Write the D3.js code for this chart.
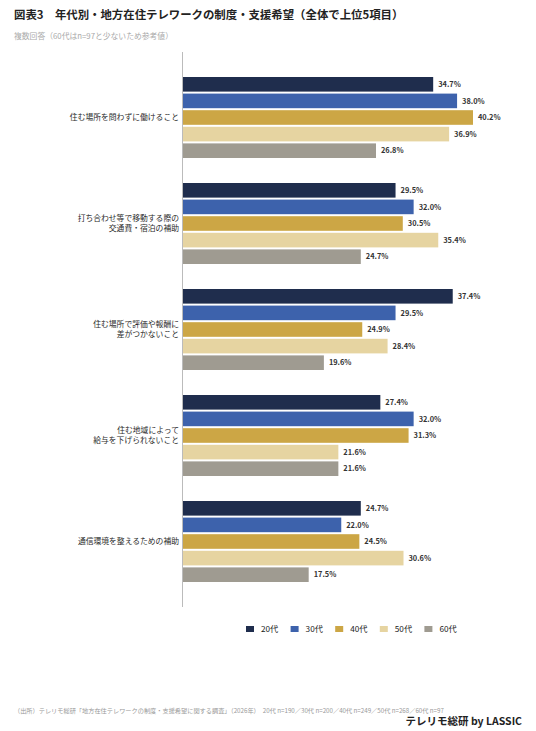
<!DOCTYPE html>
<html lang="ja">
<head>
  <meta charset="UTF-8" />
  <title>年代別・地方在住テレワークの制度・支援希望</title>
  <script src="https://d3js.org/d3.v7.min.js"></script>
  <style>
    body { margin: 0; background: #fff; }
    svg { font-family: "Noto Sans CJK JP", "Noto Sans", sans-serif; display: block; }
    .cat { font-size: 7.8px; fill: #2a2a2a; }
    .val { font-size: 7.4px; font-weight: bold; fill: #333; }
    .legend text { font-size: 8.2px; fill: #222; }
  </style>
</head>
<body>
  <svg id="chart" width="536" height="731"></svg>

  <script>
    // data
    const items = [
      ["住む場所を問わずに働けること"],
      ["打ち合わせ等で移動する際の", "交通費・宿泊の補助"],
      ["住む場所で評価や報酬に", "差がつかないこと"],
      ["住む地域によって", "給与を下げられないこと"],
      ["通信環境を整えるための補助"]
    ];
    const ages = ["20代", "30代", "40代", "50代", "60代"];
    const colors = ["#1f2d4d", "#3d62ac", "#cca645", "#e6d4a1", "#9f9b91"];
    const v20 = [34.7, 29.5, 37.4, 27.4, 24.7];
    const v30 = [38.0, 32.0, 29.5, 32.0, 22.0];
    const v40 = [40.2, 30.5, 24.9, 31.3, 24.5];
    const v50 = [36.9, 35.4, 28.4, 21.6, 30.6];
    const v60 = [26.8, 24.7, 19.6, 21.6, 17.5];
    const series = [v20, v30, v40, v50, v60];

    const svg = d3.select("#chart");

    // title + note
    svg.append("text")
      .attr("x", 14).attr("y", 19)
      .style("font-size", "11.4px").style("font-weight", "bold").attr("fill", "#222")
      .text("図表3　年代別・地方在住テレワークの制度・支援希望（全体で上位5項目）");
    svg.append("text")
      .attr("x", 14).attr("y", 39)
      .style("font-size", "7.8px").attr("fill", "#aaa")
      .text("複数回答（60代はn=97と少ないため参考値）");

    const x0 = 182;
    const x = d3.scaleLinear().domain([0, 40.2]).range([x0, 473]);
    const y = d3.scaleBand().domain(d3.range(items.length)).range([64, 594]);
    const yi = d3.scaleBand().domain(d3.range(ages.length)).range([13, 94]).paddingInner(0.12);

    const groups = svg.selectAll("g.grp")
      .data(items)
      .enter().append("g")
      .attr("class", "grp")
      .attr("transform", (d, i) => `translate(0,${y(i)})`);

    groups.each(function (lines, gi) {
      const g = d3.select(this);
      ages.forEach((a, ai) => {
        const v = series[ai][gi];
        g.append("rect")
          .attr("x", x0)
          .attr("y", yi(ai))
          .attr("width", x(v) - x0)
          .attr("height", yi.bandwidth())
          .attr("fill", colors[ai]);
        g.append("text")
          .attr("class", "val")
          .attr("x", x(v) + 5)
          .attr("y", yi(ai) + yi.bandwidth() / 2 + 2.7)
          .text(v.toFixed(1) + "%");
      });
      const mid = yi(2) + yi.bandwidth() / 2;
      lines.forEach((l, li) => {
        g.append("text")
          .attr("class", "cat")
          .attr("text-anchor", "end")
          .attr("x", 179)
          .attr("y", mid + 2.8 + (li - (lines.length - 1) / 2) * 10)
          .text(l);
      });
    });

    // axis line
    svg.append("line")
      .attr("x1", x0 + 0.5).attr("x2", x0 + 0.5)
      .attr("y1", 52).attr("y2", 607)
      .attr("stroke", "#bbb").attr("stroke-width", 1);

    // legend
    const leg = svg.append("g").attr("class", "legend")
      .attr("transform", "translate(246,629)");
    ages.forEach((a, i) => {
      const lg = leg.append("g").attr("transform", `translate(${i * 44.6},0)`);
      lg.append("rect").attr("x", 0).attr("y", -3).attr("width", 8).attr("height", 6).attr("fill", colors[i]);
      lg.append("text").attr("x", 15).attr("y", 3).text(a);
    });

    // source + brand
    svg.append("text")
      .attr("x", 14).attr("y", 713)
      .style("font-size", "6.2px").attr("fill", "#999")
      .text("（出所）テレリモ総研「地方在住テレワークの制度・支援希望に関する調査」（2026年）　20代 n=190／30代 n=200／40代 n=249／50代 n=268／60代 n=97");
    svg.append("text")
      .attr("x", 522).attr("y", 725)
      .attr("text-anchor", "end")
      .style("font-size", "10.5px").style("font-weight", "bold").attr("fill", "#222")
      .text("テレリモ総研 by LASSIC");
  </script>
</body>
</html>
